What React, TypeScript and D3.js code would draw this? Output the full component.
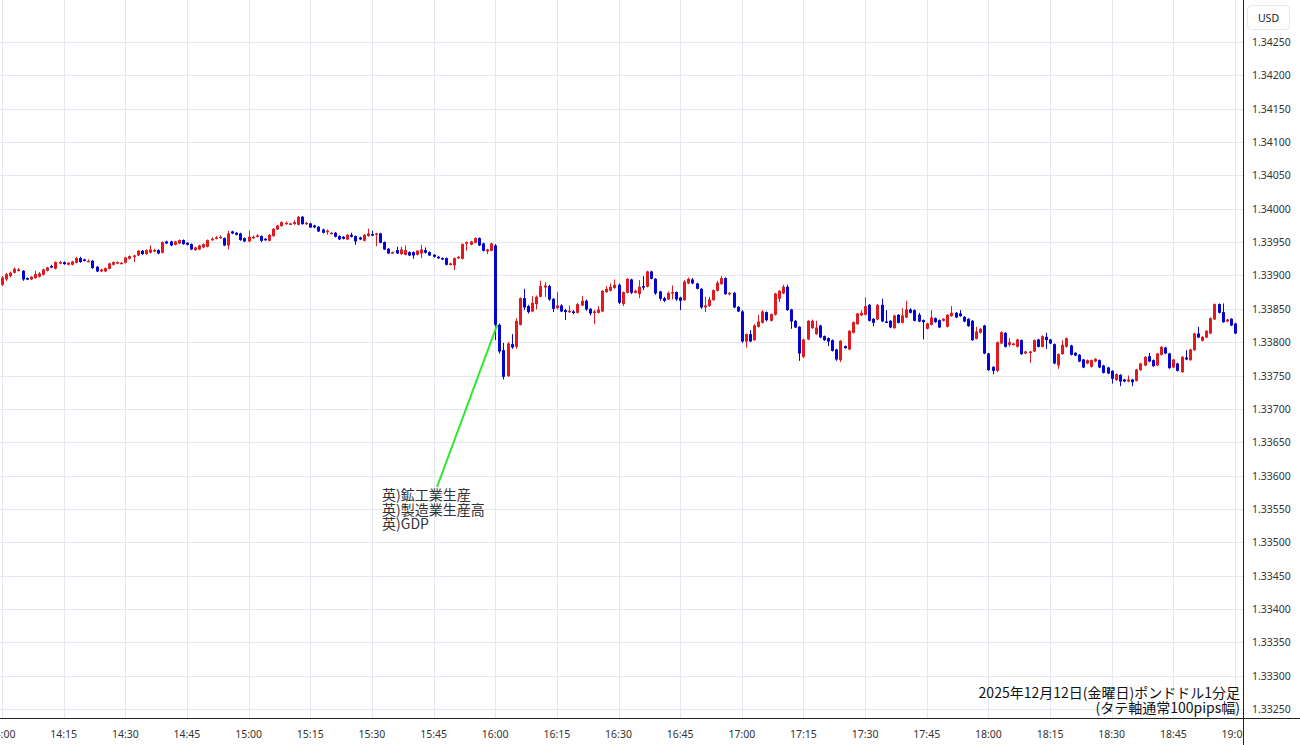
import React from "react";
import * as d3 from "d3";

// ---- data (GBP/USD 1-minute candles, 2025-12-12 14:00 - 19:00) ----
const startTime = new Date(2025, 11, 12, 14, 0);
const endTime = new Date(2025, 11, 12, 19, 0);

const open = [
  1.33886,1.33894,1.33899,1.33904,1.33907,1.33907,1.33896,1.33894,1.33896,1.33898,
  1.33901,1.33907,1.33914,1.33910,1.33918,1.33920,1.33916,1.33916,1.33919,1.33926,
  1.33924,1.33921,1.33922,1.33913,1.33906,1.33906,1.33910,1.33916,1.33918,1.33918,
  1.33919,1.33925,1.33928,1.33930,1.33937,1.33932,1.33934,1.33936,1.33938,1.33934,
  1.33951,1.33951,1.33946,1.33948,1.33953,1.33949,1.33947,1.33938,1.33939,1.33942,
  1.33943,1.33953,1.33955,1.33956,1.33956,1.33945,1.33966,1.33964,1.33963,1.33956,
  1.33951,1.33956,1.33958,1.33959,1.33955,1.33952,1.33959,1.33969,1.33974,1.33977,
  1.33977,1.33977,1.33976,1.33988,1.33977,1.33978,1.33975,1.33973,1.33969,1.33965,
  1.33963,1.33964,1.33959,1.33958,1.33954,1.33961,1.33959,1.33957,1.33952,1.33959,
  1.33962,1.33961,1.33963,1.33950,1.33940,1.33934,1.33938,1.33932,1.33931,1.33935,
  1.33935,1.33931,1.33933,1.33938,1.33935,1.33931,1.33928,1.33926,1.33926,1.33916,
  1.33915,1.33926,1.33925,1.33948,1.33946,1.33949,1.33956,1.33948,1.33936,1.33937,
  1.33945,1.33826,1.33788,1.33749,1.33797,1.33793,1.33826,1.33866,1.33854,1.33846,
  1.33857,1.33868,1.33882,1.33884,1.33865,1.33851,1.33855,1.33848,1.33845,1.33846,
  1.33844,1.33855,1.33862,1.33850,1.33844,1.33844,1.33846,1.33875,1.33877,1.33881,
  1.33886,1.33857,1.33874,1.33894,1.33874,1.33872,1.33884,1.33883,1.33906,1.33895,
  1.33876,1.33866,1.33864,1.33873,1.33875,1.33867,1.33863,1.33888,1.33894,1.33888,
  1.33880,1.33852,1.33854,1.33863,1.33877,1.33887,1.33896,1.33872,1.33874,1.33853,
  1.33846,1.33801,1.33812,1.33803,1.33823,1.33829,1.33845,1.33832,1.33841,1.33865,
  1.33873,1.33883,1.33849,1.33832,1.33823,1.33778,1.33804,1.33821,1.33812,1.33825,
  1.33809,1.33806,1.33803,1.33789,1.33773,1.33794,1.33789,1.33814,1.33827,1.33840,
  1.33841,1.33856,1.33835,1.33834,1.33856,1.33831,1.33832,1.33821,1.33841,1.33829,
  1.33837,1.33849,1.33848,1.33841,1.33833,1.33820,1.33826,1.33836,1.33833,1.33832,
  1.33823,1.33839,1.33844,1.33843,1.33838,1.33835,1.33832,1.33805,1.33814,1.33825,
  1.33783,1.33763,1.33757,1.33798,1.33814,1.33796,1.33796,1.33793,1.33803,1.33783,
  1.33784,1.33786,1.33804,1.33793,1.33808,1.33804,1.33797,1.33765,1.33782,1.33793,
  1.33795,1.33784,1.33781,1.33774,1.33768,1.33763,1.33771,1.33773,1.33765,1.33762,
  1.33757,1.33743,1.33751,1.33744,1.33741,1.33744,1.33742,1.33758,1.33765,1.33779,
  1.33773,1.33765,1.33781,1.33792,1.33783,1.33762,1.33768,1.33755,1.33777,1.33773,
  1.33788,1.33813,1.33802,1.33807,1.33813,1.33834,1.33857,1.33845,1.33831,1.33835,
  1.33828,
];

const high = [
  1.33899,1.33904,1.33906,1.33912,1.33911,1.33908,1.33897,1.33899,1.33907,1.33905,
  1.33910,1.33913,1.33916,1.33921,1.33922,1.33921,1.33920,1.33922,1.33928,1.33928,
  1.33925,1.33924,1.33923,1.33914,1.33910,1.33912,1.33919,1.33921,1.33921,1.33920,
  1.33928,1.33930,1.33931,1.33938,1.33938,1.33939,1.33945,1.33940,1.33939,1.33951,
  1.33952,1.33952,1.33952,1.33954,1.33954,1.33950,1.33948,1.33943,1.33946,1.33948,
  1.33954,1.33957,1.33959,1.33960,1.33957,1.33967,1.33967,1.33965,1.33964,1.33957,
  1.33967,1.33960,1.33962,1.33960,1.33956,1.33962,1.33971,1.33976,1.33981,1.33981,
  1.33979,1.33983,1.33989,1.33989,1.33980,1.33979,1.33976,1.33974,1.33970,1.33969,
  1.33965,1.33965,1.33960,1.33959,1.33962,1.33964,1.33960,1.33958,1.33962,1.33970,
  1.33967,1.33964,1.33964,1.33951,1.33941,1.33936,1.33943,1.33943,1.33945,1.33936,
  1.33936,1.33938,1.33946,1.33942,1.33936,1.33932,1.33929,1.33927,1.33927,1.33919,
  1.33927,1.33929,1.33948,1.33951,1.33952,1.33957,1.33957,1.33949,1.33940,1.33949,
  1.33947,1.33828,1.33799,1.33800,1.33812,1.33836,1.33867,1.33880,1.33856,1.33869,
  1.33870,1.33892,1.33890,1.33886,1.33866,1.33875,1.33857,1.33850,1.33855,1.33848,
  1.33859,1.33869,1.33864,1.33851,1.33848,1.33854,1.33878,1.33884,1.33888,1.33894,
  1.33888,1.33876,1.33896,1.33895,1.33879,1.33893,1.33899,1.33907,1.33907,1.33896,
  1.33877,1.33868,1.33876,1.33885,1.33876,1.33868,1.33893,1.33897,1.33896,1.33889,
  1.33881,1.33868,1.33868,1.33879,1.33892,1.33899,1.33897,1.33875,1.33875,1.33854,
  1.33848,1.33813,1.33818,1.33827,1.33841,1.33848,1.33846,1.33843,1.33874,1.33878,
  1.33886,1.33886,1.33850,1.33833,1.33824,1.33805,1.33833,1.33834,1.33832,1.33826,
  1.33810,1.33807,1.33804,1.33790,1.33803,1.33795,1.33818,1.33831,1.33844,1.33848,
  1.33867,1.33857,1.33836,1.33857,1.33865,1.33848,1.33833,1.33841,1.33842,1.33851,
  1.33862,1.33851,1.33849,1.33844,1.33834,1.33829,1.33848,1.33837,1.33834,1.33836,
  1.33842,1.33854,1.33845,1.33848,1.33839,1.33836,1.33833,1.33823,1.33821,1.33826,
  1.33784,1.33764,1.33801,1.33816,1.33815,1.33806,1.33799,1.33805,1.33804,1.33787,
  1.33787,1.33804,1.33805,1.33810,1.33814,1.33805,1.33798,1.33783,1.33803,1.33807,
  1.33796,1.33785,1.33782,1.33775,1.33774,1.33774,1.33776,1.33774,1.33766,1.33763,
  1.33758,1.33753,1.33752,1.33745,1.33750,1.33745,1.33760,1.33769,1.33779,1.33784,
  1.33774,1.33784,1.33794,1.33793,1.33784,1.33775,1.33769,1.33779,1.33788,1.33790,
  1.33814,1.33823,1.33809,1.33818,1.33837,1.33858,1.33858,1.33858,1.33835,1.33836,
  1.33829,
];

const low = [
  1.33884,1.33892,1.33897,1.33903,1.33906,1.33892,1.33893,1.33893,1.33895,1.33897,
  1.33900,1.33906,1.33911,1.33909,1.33917,1.33916,1.33915,1.33915,1.33918,1.33919,
  1.33921,1.33920,1.33910,1.33905,1.33905,1.33905,1.33909,1.33915,1.33917,1.33917,
  1.33918,1.33924,1.33920,1.33929,1.33931,1.33931,1.33933,1.33935,1.33932,1.33933,
  1.33947,1.33944,1.33945,1.33947,1.33946,1.33945,1.33938,1.33937,1.33938,1.33941,
  1.33942,1.33952,1.33954,1.33955,1.33944,1.33939,1.33962,1.33960,1.33952,1.33950,
  1.33950,1.33955,1.33957,1.33950,1.33952,1.33951,1.33958,1.33968,1.33973,1.33976,
  1.33976,1.33976,1.33975,1.33976,1.33976,1.33971,1.33971,1.33965,1.33963,1.33961,
  1.33962,1.33957,1.33953,1.33954,1.33953,1.33957,1.33946,1.33953,1.33951,1.33958,
  1.33959,1.33944,1.33948,1.33938,1.33932,1.33933,1.33932,1.33931,1.33930,1.33929,
  1.33925,1.33930,1.33926,1.33933,1.33929,1.33927,1.33925,1.33923,1.33915,1.33915,
  1.33908,1.33925,1.33924,1.33937,1.33945,1.33948,1.33944,1.33936,1.33932,1.33936,
  1.33803,1.33783,1.33744,1.33748,1.33790,1.33790,1.33825,1.33848,1.33843,1.33845,
  1.33849,1.33867,1.33868,1.33862,1.33845,1.33849,1.33845,1.33833,1.33844,1.33842,
  1.33843,1.33854,1.33847,1.33840,1.33827,1.33843,1.33845,1.33874,1.33876,1.33880,
  1.33857,1.33854,1.33873,1.33872,1.33873,1.33866,1.33878,1.33882,1.33894,1.33871,
  1.33862,1.33860,1.33863,1.33864,1.33862,1.33848,1.33862,1.33887,1.33887,1.33879,
  1.33850,1.33845,1.33853,1.33862,1.33876,1.33886,1.33871,1.33870,1.33851,1.33845,
  1.33799,1.33792,1.33800,1.33802,1.33822,1.33828,1.33831,1.33831,1.33840,1.33860,
  1.33872,1.33847,1.33820,1.33821,1.33772,1.33776,1.33803,1.33820,1.33811,1.33806,
  1.33802,1.33794,1.33786,1.33772,1.33770,1.33790,1.33788,1.33813,1.33826,1.33839,
  1.33840,1.33831,1.33824,1.33833,1.33830,1.33829,1.33821,1.33820,1.33828,1.33828,
  1.33836,1.33843,1.33831,1.33830,1.33804,1.33819,1.33825,1.33829,1.33821,1.33831,
  1.33822,1.33838,1.33836,1.33838,1.33830,1.33823,1.33802,1.33804,1.33813,1.33782,
  1.33757,1.33752,1.33755,1.33797,1.33792,1.33793,1.33795,1.33792,1.33781,1.33782,
  1.33769,1.33785,1.33792,1.33792,1.33790,1.33797,1.33767,1.33760,1.33781,1.33792,
  1.33780,1.33779,1.33770,1.33761,1.33767,1.33762,1.33770,1.33761,1.33753,1.33752,
  1.33738,1.33742,1.33734,1.33740,1.33740,1.33734,1.33741,1.33757,1.33764,1.33770,
  1.33763,1.33764,1.33780,1.33782,1.33760,1.33761,1.33756,1.33754,1.33773,1.33772,
  1.33787,1.33806,1.33801,1.33806,1.33812,1.33833,1.33843,1.33829,1.33830,1.33824,
  1.33812,
];

const close = [
  1.33897,1.33902,1.33904,1.33910,1.33909,1.33894,1.33894,1.33898,1.33902,1.33903,
  1.33909,1.33912,1.33912,1.33920,1.33920,1.33917,1.33919,1.33921,1.33926,1.33920,
  1.33922,1.33922,1.33911,1.33906,1.33909,1.33911,1.33918,1.33920,1.33920,1.33919,
  1.33927,1.33929,1.33930,1.33937,1.33932,1.33938,1.33939,1.33938,1.33933,1.33950,
  1.33948,1.33945,1.33951,1.33953,1.33947,1.33946,1.33939,1.33942,1.33945,1.33947,
  1.33953,1.33955,1.33957,1.33958,1.33945,1.33963,1.33963,1.33961,1.33953,1.33951,
  1.33958,1.33958,1.33960,1.33952,1.33953,1.33961,1.33970,1.33975,1.33980,1.33979,
  1.33978,1.33980,1.33988,1.33977,1.33979,1.33972,1.33972,1.33966,1.33964,1.33967,
  1.33964,1.33958,1.33954,1.33955,1.33961,1.33958,1.33951,1.33954,1.33961,1.33963,
  1.33960,1.33963,1.33949,1.33939,1.33933,1.33935,1.33933,1.33939,1.33938,1.33930,
  1.33930,1.33937,1.33939,1.33934,1.33930,1.33928,1.33926,1.33924,1.33916,1.33918,
  1.33926,1.33928,1.33947,1.33950,1.33951,1.33956,1.33945,1.33937,1.33939,1.33948,
  1.33826,1.33786,1.33748,1.33798,1.33792,1.33832,1.33866,1.33852,1.33845,1.33859,
  1.33868,1.33884,1.33885,1.33864,1.33850,1.33855,1.33846,1.33845,1.33847,1.33844,
  1.33857,1.33862,1.33849,1.33843,1.33846,1.33849,1.33877,1.33880,1.33883,1.33886,
  1.33859,1.33875,1.33895,1.33874,1.33877,1.33883,1.33882,1.33906,1.33895,1.33873,
  1.33865,1.33862,1.33874,1.33875,1.33864,1.33862,1.33891,1.33895,1.33888,1.33880,
  1.33852,1.33855,1.33864,1.33878,1.33889,1.33896,1.33872,1.33874,1.33852,1.33846,
  1.33801,1.33812,1.33801,1.33825,1.33831,1.33846,1.33833,1.33842,1.33873,1.33877,
  1.33883,1.33848,1.33831,1.33822,1.33783,1.33804,1.33832,1.33832,1.33822,1.33807,
  1.33803,1.33801,1.33787,1.33774,1.33802,1.33791,1.33817,1.33830,1.33843,1.33844,
  1.33854,1.33832,1.33829,1.33856,1.33831,1.33830,1.33822,1.33840,1.33829,1.33840,
  1.33849,1.33844,1.33832,1.33831,1.33830,1.33828,1.33837,1.33830,1.33822,1.33835,
  1.33841,1.33844,1.33837,1.33839,1.33831,1.33824,1.33803,1.33816,1.33820,1.33783,
  1.33758,1.33757,1.33800,1.33815,1.33793,1.33800,1.33798,1.33804,1.33782,1.33786,
  1.33786,1.33803,1.33793,1.33809,1.33803,1.33798,1.33768,1.33782,1.33796,1.33806,
  1.33781,1.33780,1.33771,1.33762,1.33773,1.33773,1.33775,1.33762,1.33754,1.33753,
  1.33745,1.33752,1.33741,1.33741,1.33744,1.33740,1.33759,1.33768,1.33778,1.33771,
  1.33764,1.33783,1.33793,1.33783,1.33761,1.33774,1.33757,1.33778,1.33774,1.33789,
  1.33813,1.33807,1.33808,1.33817,1.33836,1.33857,1.33844,1.33830,1.33834,1.33825,
  1.33813,
];

const priceTicks = [
  1.3325, 1.333, 1.3335, 1.334, 1.3345, 1.335, 1.3355, 1.336, 1.3365, 1.337, 1.3375,
  1.338, 1.3385, 1.339, 1.3395, 1.34, 1.3405, 1.341, 1.3415, 1.342, 1.3425,
];
const timeTickMinutes = [0, 15, 30, 45, 60, 75, 90, 105, 120, 135, 150, 165, 180, 195, 210, 225, 240, 255, 270, 285, 300];

const titleLine1 = "2025年12月12日(金曜日)ポンドドル1分足";
const titleLine2 = "(タテ軸通常100pips幅)";
const currencyLabel = "USD";
const eventLabels = ["英)鉱工業生産", "英)製造業生産高", "英)GDP"];
const eventCandleIndex = 120; // 16:00

// ---- layout ----
const W = 1300;
const H = 745;
const plotRight = 1243;
const plotBottom = 718;
const UP = "#e01a1e";
const DOWN = "#0505d2";
const GRID = "#e2e8ee";
const TICK_FONT = "'Noto Sans', 'Liberation Sans', sans-serif";
const JP_FONT = "'Noto Sans CJK JP', 'Noto Sans', sans-serif";

export default function App() {
  const timeAt = (i: number) => d3.timeMinute.offset(startTime, i);
  const x = d3.scaleTime().domain([startTime, endTime]).range([2, 1235]);
  const y = d3.scaleLinear().domain([1.3325, 1.3425]).range([709, 42]);
  const fmtTime = d3.timeFormat("%H:%M");
  const fmtPrice = d3.format(".5f");

  const evX = x(timeAt(eventCandleIndex));
  const evY = y(close[eventCandleIndex]);

  return (
    <svg
      width={W}
      height={H}
      viewBox={`0 0 ${W} ${H}`}
      style={{ position: "absolute", left: 0, top: 0, background: "#fff" }}
    >
      <defs>
        <clipPath id="plotClip">
          <rect x={0} y={0} width={plotRight} height={plotBottom} />
        </clipPath>
      </defs>
      <rect x={0} y={0} width={W} height={H} fill="#fff" />

      {/* grid */}
      <g shapeRendering="crispEdges">
        {priceTicks.map((p) => (
          <line key={"h" + p} x1={0} x2={plotRight} y1={Math.round(y(p)) + 0.5} y2={Math.round(y(p)) + 0.5} stroke={GRID} />
        ))}
        {timeTickMinutes.map((m) => {
          const xx = Math.round(x(timeAt(m))) + 0.5;
          return <line key={"v" + m} x1={xx} x2={xx} y1={0} y2={plotBottom} stroke={GRID} />;
        })}
      </g>

      {/* candles */}
      <g clipPath="url(#plotClip)">
        {open.map((o, i) => {
          const c = close[i];
          const color = c >= o ? UP : DOWN;
          const cx = Math.round(x(timeAt(i))) + 0.5;
          const top = y(Math.max(o, c));
          const bot = y(Math.min(o, c));
          const h = Math.max(1.5, bot - top);
          return (
            <g key={i}>
              <line x1={cx} x2={cx} y1={y(high[i])} y2={y(low[i])} stroke={color} strokeWidth={1} />
              <rect x={cx - 1.5} y={top} width={3} height={h} fill={color} />
            </g>
          );
        })}
      </g>

      {/* event annotation */}
      <line x1={437} y1={487} x2={evX + 2} y2={evY} stroke="#2ee62e" strokeWidth={2} />
      {eventLabels.map((t, i) => (
        <text key={t} x={382} y={500 + i * 14.5} fontFamily={JP_FONT} fontSize={14} fill="#333">
          {t}
        </text>
      ))}

      {/* title (bottom right) */}
      <text x={1240} y={698} textAnchor="end" fontFamily={JP_FONT} fontSize={14} fill="#111">
        {titleLine1}
      </text>
      <text x={1240} y={713} textAnchor="end" fontFamily={JP_FONT} fontSize={14} fill="#111">
        {titleLine2}
      </text>

      {/* axes lines */}
      <g shapeRendering="crispEdges">
        <line x1={0} x2={W} y1={plotBottom + 0.5} y2={plotBottom + 0.5} stroke="#222" />
        <line x1={plotRight + 0.5} x2={plotRight + 0.5} y1={0} y2={H} stroke="#222" />
      </g>

      {/* time labels */}
      <svg x={0} y={plotBottom + 1} width={plotRight} height={H - plotBottom}>
        {timeTickMinutes.map((m) => (
          <text
            key={"t" + m}
            x={x(timeAt(m))}
            y={19}
            textAnchor="middle"
            fontFamily={TICK_FONT}
            fontSize={10.5}
            fill="#333"
          >
            {fmtTime(timeAt(m))}
          </text>
        ))}
      </svg>

      {/* price labels */}
      {priceTicks.map((p) => (
        <text key={"p" + p} x={1252} y={y(p) + 4} fontFamily={TICK_FONT} fontSize={10.5} fill="#333">
          {fmtPrice(p)}
        </text>
      ))}

      {/* currency box */}
      <rect x={1247.5} y={5.5} width={42} height={24} rx={4} fill="#fff" stroke="#e6e6e6" />
      <text x={1268.5} y={21.5} textAnchor="middle" fontFamily={TICK_FONT} fontSize={10.5} fill="#222">
        {currencyLabel}
      </text>
    </svg>
  );
}
